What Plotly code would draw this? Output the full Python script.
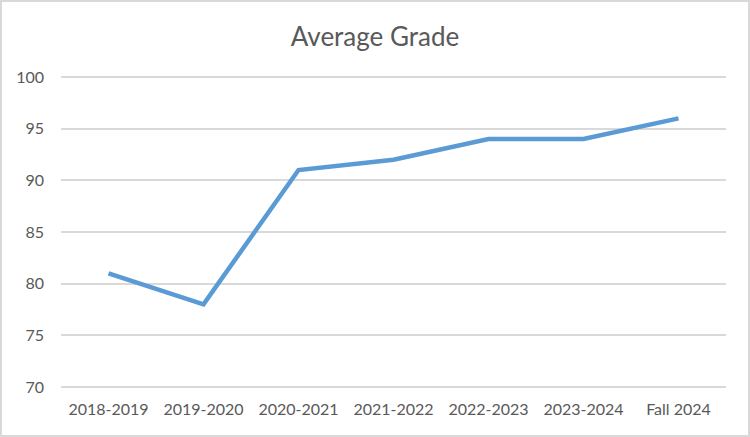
import plotly.graph_objects as go

categories = ["2018-2019", "2019-2020", "2020-2021", "2021-2022", "2022-2023", "2023-2024", "Fall 2024"]
grades = [81, 78, 91, 92, 94, 94, 96]
y_ticks = [70, 75, 80, 85, 90, 95, 100]

W, H = 750, 437
L, R, T, B = 61, 24, 75, 48
pw, ph = W - L - R, H - T - B

fig = go.Figure()
fig.add_trace(go.Scatter(
    x=categories, y=grades, mode="lines",
    line=dict(color="#5B9BD5", width=4.5), hoverinfo="x+y", showlegend=False,
))

font_family = "Lato, 'Open Sans', sans-serif"
fig.update_layout(
    width=W, height=H,
    margin=dict(l=L, r=R, t=T, b=B),
    paper_bgcolor="white", plot_bgcolor="white",
    title=dict(text="Average Grade", x=0.5, xanchor="center", y=1 - 37 / H, yanchor="middle",
               font=dict(family=font_family, size=26, color="#595959")),
    xaxis=dict(type="category", range=[-0.5, 6.5], showgrid=False, zeroline=False,
               showline=False, ticks="", tickfont=dict(family=font_family, size=16, color="#595959"),
               ticklabelstandoff=9),
    yaxis=dict(range=[69.8, 100.2], tickvals=y_ticks, showgrid=True, gridcolor="#d9d9d9", gridwidth=1.5,
               zeroline=False, showline=False, ticks="",
               tickfont=dict(family=font_family, size=16, color="#595959"), ticklabelstandoff=16),
    shapes=[dict(type="rect", xref="paper", yref="paper",
                 x0=(1 - L) / pw, x1=(W - 1 - L) / pw,
                 y0=-(B - 1) / ph, y1=1 + (T - 1) / ph,
                 line=dict(color="#d9d9d9", width=2), layer="below")],
)

fig.write_html("out.html", config={"displayModeBar": False})
with open("out.html", encoding="utf-8") as f:
    html = f.read()
html = html.replace("<body>", '<body style="margin:0;padding:0;">', 1)
with open("out.html", "w", encoding="utf-8") as f:
    f.write(html)
